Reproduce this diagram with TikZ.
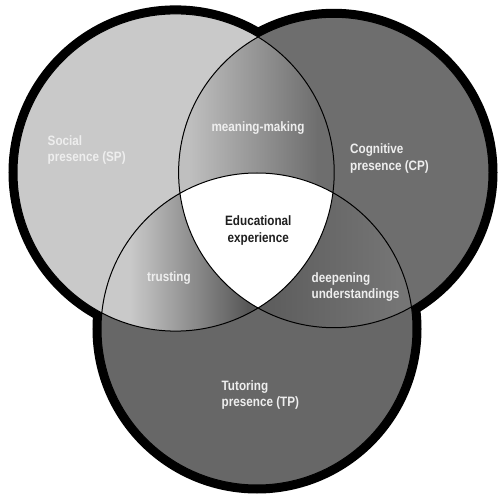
\documentclass[tikz,border=0pt]{standalone}
\usepackage{fontspec}
\newfontfamily\cond{Liberation Sans}[FakeStretch=0.86]
\definecolor{sgray}{HTML}{C9C9C9}
\definecolor{cgray}{HTML}{6E6E6E}
\definecolor{tgray}{HTML}{676767}
\definecolor{lbl}{HTML}{EEEEEE}
\tikzset{
  lab/.style={inner sep=0pt, align=left, text=lbl, font=\cond\bfseries\fontsize{13.6}{16.7}\selectfont},
  labc/.style={lab, align=center},
  thin/.style={line width=1pt, draw=black},
}
\begin{document}
\begin{tikzpicture}[x=1pt,y=-1pt]
\useasboundingbox (0,0) rectangle (504,497);
\coordinate (S) at (175.6,172.5);
\coordinate (C) at (333.8,172.5);
\coordinate (T) at (257,329);
% thick outer border (inner half covered by fills)
\draw[line width=17pt] (S) circle (158.6) (C) circle (155.2) (T) circle (156);
% base fills
\fill[sgray] (S) circle (158.6);
\fill[cgray] (C) circle (155.2);
\fill[tgray] (T) circle (156);
% S and C overlap
\begin{scope}
  \clip (S) circle (158.6);
  \clip (C) circle (155.2);
  \fill[sgray!95!black] (150,0) rectangle (190,340);
  \shade[left color=sgray!95!black, right color=cgray] (189,0) rectangle (318,340);
  \fill[cgray] (317,0) rectangle (360,340);
\end{scope}
% S and T overlap
\begin{scope}
  \clip (S) circle (158.6);
  \clip (T) circle (156);
  \fill[sgray] (80,170) rectangle (131,340);
  \shade[left color=sgray, right color=tgray!85!black] (130,170) rectangle (248,340);
  \fill[tgray!85!black] (247,170) rectangle (280,340);
\end{scope}
% C and T overlap
\begin{scope}
  \clip (C) circle (155.2);
  \clip (T) circle (156);
  \fill[tgray!90!black] (230,170) rectangle (266,340);
  \shade[left color=tgray!90!black, right color=cgray!95!white] (265,170) rectangle (400,340);
  \fill[cgray!95!white] (399,170) rectangle (430,340);
\end{scope}
% centre
\begin{scope}
  \clip (S) circle (158.6);
  \clip (C) circle (155.2);
  \fill[white] (T) circle (156);
\end{scope}
% thin circle outlines
\draw[thin] (S) circle (158.6) (C) circle (155.2) (T) circle (156);
% labels
\node[lab, anchor=west] (sp) at (47.5,150) {Social\\presence (SP)};
\node[lab, anchor=west] (cp) at (350,158.5) {Cognitive\\presence (CP)};
\node[lab, anchor=west] (tp) at (221.5,395) {Tutoring\\presence (TP)};
\node[labc] (mm) at (258,128.5) {meaning-making};
\node[labc] (tr) at (169,278.5) {trusting};
\node[lab, anchor=west] (du) at (311.5,287) {deepening\\understandings};
\node[labc, text=black!88] (ee) at (258.3,230.5) {Educational\\experience};
\end{tikzpicture}
\end{document}
